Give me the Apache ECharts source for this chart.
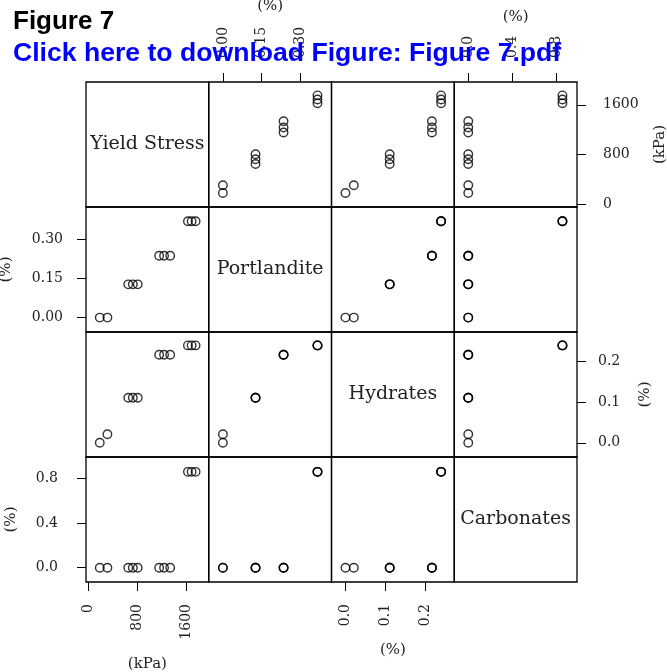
<!DOCTYPE html>
<html>
<head>
<meta charset="utf-8">
<title>Figure 7</title>
<script src="https://cdn.jsdelivr.net/npm/echarts@6.0.0/dist/echarts.min.js"></script>
<style>
  html, body { margin: 0; padding: 0; background: #fff; }
  #chart { width: 667px; height: 672px; }
</style>
</head>
<body>
<div id="chart"></div>
<script>
// variables of the pairs plot
const varNames = ['Yield Stress', 'Portlandite', 'Hydrates', 'Carbonates'];
const yieldStress = [185, 310, 650, 725, 805, 1155, 1235, 1335, 1625, 1685, 1750];
const portlandite = [0, 0, 0.127, 0.127, 0.127, 0.236, 0.236, 0.236, 0.368, 0.368, 0.368];
const hydrates = [0, 0.021, 0.111, 0.111, 0.111, 0.217, 0.217, 0.217, 0.24, 0.24, 0.24];
const carbonates = [0, 0, 0, 0, 0, 0, 0, 0, 0.86, 0.86, 0.86];

// tick labels
const yieldTicks = [0, 800, 1600];
const portTicks = [0, 0.15, 0.30];
const hydTicks = [0, 0.1, 0.2];
const carbTicks = [0, 0.4, 0.8];

const values = [yieldStress, portlandite, hydrates, carbonates];
const ticks = [yieldTicks, portTicks, hydTicks, carbTicks];
const ranges = [[-40, 1965], [-0.055, 0.4225], [-0.035, 0.273], [-0.128, 0.993]];
const units = ['(kPa)', '(%)', '(%)', '(%)'];
const digits = [0, 2, 1, 1];

// panel layout
const edgesX = [86, 208.75, 331.5, 454.25, 577];
const edgesY = [82, 207, 332, 457, 582];

const serif = 'DejaVu Serif';

// outer axes: which panel shows which side, with label margin and name gap
const topAxes = { 1: [24, 68], 3: [24, 57] };      // row 0, by column
const bottomAxes = { 0: [22, 75], 2: [22, 61] };   // row 3, by column
const leftAxes = { 1: [23, 72], 3: [28, 67] };     // col 0, by row
const rightAxes = { 0: [26, 76], 2: [21, 61] };    // col 3, by row

function baseAxis(v) {
  return {
    type: 'value',
    min: ranges[v][0],
    max: ranges[v][1],
    show: false,
    splitLine: { show: false },
    axisLine: { show: false, onZero: false }
  };
}

function outerAxis(ax, v, position, margin, gap, rotate) {
  ax.show = true;
  ax.position = position;
  ax.axisTick = {
    show: true, length: 9, inside: false,
    customValues: ticks[v],
    lineStyle: { color: '#000', width: 1 }
  };
  ax.axisLabel = {
    show: true, margin: margin, rotate: rotate,
    customValues: ticks[v],
    color: '#222', fontFamily: serif, fontSize: 14,
    formatter: val => Number(val).toFixed(digits[v])
  };
  ax.name = units[v];
  ax.nameLocation = 'middle';
  ax.nameGap = gap;
  ax.nameTextStyle = { color: '#222', fontFamily: serif, fontSize: 15 };
  if (position === 'left' || position === 'right') ax.nameRotate = 90;
  return ax;
}

const grids = [], xAxes = [], yAxes = [], series = [], graphics = [];

for (let i = 0; i < 4; i++) {
  for (let j = 0; j < 4; j++) {
    const g = grids.length;
    grids.push({
      left: edgesX[j], top: edgesY[i],
      width: edgesX[j + 1] - edgesX[j], height: edgesY[i + 1] - edgesY[i],
      show: true, borderColor: '#000', borderWidth: 1.3,
      backgroundColor: 'transparent',
      containLabel: false, outerBoundsMode: 'none'
    });
    let xa = baseAxis(j), ya = baseAxis(i);
    xa.gridIndex = g; ya.gridIndex = g;
    if (i === 0 && topAxes[j]) outerAxis(xa, j, 'top', topAxes[j][0], topAxes[j][1], -90);
    if (i === 3 && bottomAxes[j]) outerAxis(xa, j, 'bottom', bottomAxes[j][0], bottomAxes[j][1], 90);
    if (j === 0 && leftAxes[i]) outerAxis(ya, i, 'left', leftAxes[i][0], leftAxes[i][1], 0);
    if (j === 3 && rightAxes[i]) outerAxis(ya, i, 'right', rightAxes[i][0], rightAxes[i][1], 0);
    xAxes.push(xa);
    yAxes.push(ya);

    if (i === j) {
      graphics.push({
        type: 'text',
        x: (edgesX[j] + edgesX[j + 1]) / 2,
        y: (edgesY[i] + edgesY[i + 1]) / 2,
        style: {
          text: varNames[i], align: 'center', verticalAlign: 'middle',
          fill: '#222', font: '19px "DejaVu Serif"'
        }
      });
    } else {
      series.push({
        type: 'scatter',
        xAxisIndex: g, yAxisIndex: g,
        symbol: 'circle', symbolSize: 8.5,
        itemStyle: { color: 'rgba(0,0,0,0)', borderColor: '#000', borderWidth: 1.4 },
        silent: true,
        data: values[j].map((x, k) => [x, values[i][k]])
      });
    }
  }
}

const chart = echarts.init(document.getElementById('chart'), null, { renderer: 'canvas' });
chart.setOption({
  animation: false,
  backgroundColor: '#fff',
  title: [
    {
      text: 'Figure 7', left: 13, top: 9, padding: 0, z: 20,
      textStyle: { fontFamily: 'Liberation Sans', fontWeight: 'bold', fontSize: 26, color: '#000' }
    },
    {
      text: 'Click here to download Figure: Figure 7.pdf', left: 13, top: 40, padding: 0, z: 20,
      textStyle: { fontFamily: 'Liberation Sans', fontWeight: 'bold', fontSize: 26.6, color: '#0000ff' }
    }
  ],
  grid: grids,
  xAxis: xAxes,
  yAxis: yAxes,
  series: series,
  graphic: graphics
});
</script>
</body>
</html>
